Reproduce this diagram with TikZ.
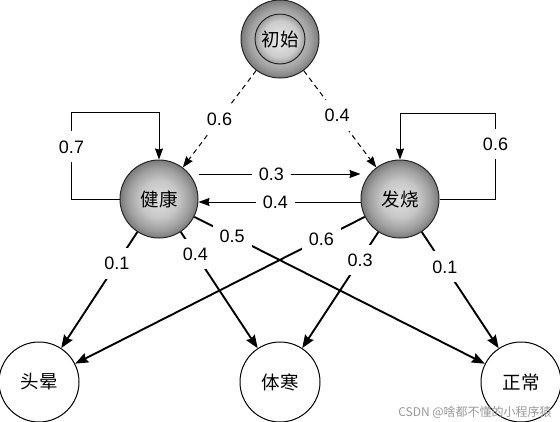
\documentclass[tikz,border=0pt]{standalone}
\usepackage{fontspec}
\setmainfont{Liberation Sans}
\newfontfamily\cjk{Noto Sans CJK SC}
\usetikzlibrary{arrows.meta,calc}
\pgfdeclareradialshading{ballgray}{\pgfpoint{0bp}{0bp}}{color(0bp)=(black!12); color(12bp)=(black!22); color(20bp)=(black!38); color(25bp)=(black!52); color(50bp)=(black!52)}
\pgfdeclareradialshading{innergray}{\pgfpoint{0bp}{0bp}}{color(0bp)=(black!8); color(18bp)=(black!20); color(25bp)=(black!38); color(50bp)=(black!38)}
\begin{document}
\begin{tikzpicture}[x=1pt,y=-1pt,
  cjkfont/.style={font=\cjk\fontsize{18.5}{18.5}\selectfont},
  ball/.style={circle,draw=black!85,line width=1pt,shading=ballgray,minimum size=78pt,inner sep=0pt,cjkfont},
  innerball/.style={circle,draw=black!85,line width=1pt,shading=innergray,minimum size=50pt,inner sep=0pt,cjkfont},
  obs/.style={circle,draw=black,line width=1pt,fill=white,minimum size=80pt,inner sep=0pt,cjkfont},
  lbl/.style={fill=white,inner xsep=7pt,inner ysep=9pt,font=\fontsize{18}{18}\selectfont},
  thickarrow/.style={line width=1.9pt,-{Stealth[length=13pt,width=10pt,inset=1.5pt]}},
  thinarrow/.style={line width=1pt,-{Stealth[length=11pt,width=8pt,inset=1pt]}},
  dasharrow/.style={thinarrow,dash pattern=on 5pt off 4pt}]
\useasboundingbox (0,0) rectangle (560,421);
% nodes
\node[ball] (cs) at (280,39) {};
\node[innerball] (csin) at (280,39) {初始};
\node[ball] (jk) at (159,199) {健康};
\node[ball] (fs) at (400,199) {发烧};
\node[obs] (tw) at (39,382) {头晕};
\node[obs] (th) at (280,382) {体寒};
\node[obs] (zc) at (521,382) {正常};
% initial probabilities
\draw[dasharrow] (cs) -- node[lbl,pos=0.5]{0.6} (jk);
\draw[dasharrow] (cs) -- node[lbl,pos=0.46]{0.4} (fs);
% transitions
\draw[thinarrow] ([yshift=25pt]jk.east) -- node[lbl,pos=0.45]{0.3} ([yshift=25pt]fs.west);
\draw[thinarrow] ([yshift=-3pt]fs.west) -- node[lbl,pos=0.525]{0.4} ([yshift=-3pt]jk.east);
\draw[thinarrow] (jk.west) -- ++(-48,0) -- node[lbl,pos=0.6]{0.7} ++(0,-87) -| (jk.north);
\draw[thinarrow] (fs.east) -- ++(56,0) -- node[lbl,pos=0.64]{0.6} ++(0,-86) -| (fs.north);
% emissions
\draw[thickarrow] (jk) -- node[lbl,pos=0.27]{0.1} (tw);
\draw[thickarrow] (jk) -- node[lbl,pos=0.19]{0.4} (th);
\draw[thickarrow] (jk) -- node[lbl,pos=0.13]{0.5} (zc);
\draw[thickarrow] (fs) -- node[lbl,pos=0.15]{0.6} (tw);
\draw[thickarrow] (fs) -- node[lbl,pos=0.24]{0.3} (th);
\draw[thickarrow] (fs) -- node[lbl,pos=0.30]{0.1} (zc);
% watermark
\node[text=black!40,font=\cjk\fontsize{12}{12}\selectfont,inner sep=0pt] (wm) at (475,412) {CSDN @啥都不懂的小程序猿};
\end{tikzpicture}
\end{document}
